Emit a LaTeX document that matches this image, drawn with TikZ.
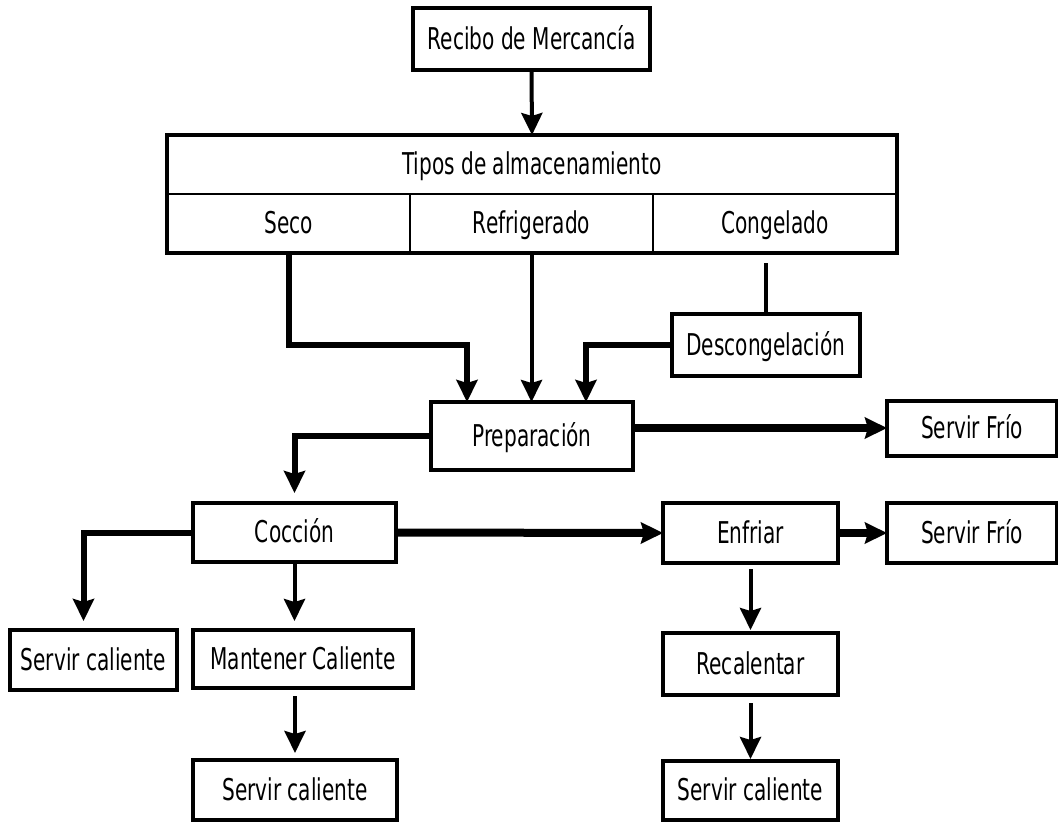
\documentclass[tikz,border=0pt]{standalone}
\usepackage{fontspec}
\setmainfont{DejaVu Sans}[FakeStretch=0.67]
\usetikzlibrary{arrows.meta}

\begin{document}
\begin{tikzpicture}[x=1pt,y=-1pt,
    box/.style = {rectangle,draw,line width=4pt,inner sep=0pt,outer sep=0pt,text height=25pt,text depth=5pt,font=\fontsize{30}{32}\selectfont},
    cell/.style = {rectangle,draw,line width=1.5pt,inner sep=0pt,outer sep=0pt,minimum height=59pt,text height=25pt,text depth=5pt,font=\fontsize{30}{32}\selectfont},
    flow/.style = {line width=4pt,-{Stealth[length=22pt,width=21pt,inset=3pt]}},
    bend flow/.style = {flow,line width=6pt},
    bold flow/.style = {flow,line width=8pt}]
\useasboundingbox (0,0) rectangle (1058,823);
% boxes
\node[box,minimum width=237pt,minimum height=62pt] (recibo) at (531.5,39) {Recibo de Mercancía};
\node[cell,minimum width=730pt] (tipos) at (532,164.5) {Tipos de almacenamiento};
\node[cell,minimum width=243pt] (seco) at (288.5,223.5) {Seco};
\node[cell,minimum width=243pt] (refri) at (531.5,223.5) {Refrigerado};
\node[cell,minimum width=244pt] (conge) at (775,223.5) {Congelado};
\draw[line width=4pt] (tipos.north west) rectangle (conge.south east);
\node[box,minimum width=188pt,minimum height=62pt] (descong) at (766,345) {Descongelación};
\node[box,minimum width=202pt,minimum height=68pt] (prep) at (532,436) {Preparación};
\node[box,minimum width=170pt,minimum height=55pt] (frio1) at (972,428) {Servir Frío};
\node[box,minimum width=203pt,minimum height=59pt] (cocc) at (294.5,532.5) {Cocción};
\node[box,minimum width=175pt,minimum height=60pt] (enfriar) at (750.5,533) {Enfriar};
\node[box,minimum width=170pt,minimum height=60pt] (frio2) at (972,533) {Servir Frío};
\node[box,minimum width=167pt,minimum height=60pt] (sc1) at (93.5,660) {Servir caliente};
\node[box,minimum width=220pt,minimum height=58pt] (mant) at (303,659) {Mantener Caliente};
\node[box,minimum width=175pt,minimum height=62pt] (recal) at (750.5,664) {Recalentar};
\node[box,minimum width=204pt,minimum height=60pt] (sc2) at (295,790) {Servir caliente};
\node[box,minimum width=175pt,minimum height=59pt] (sc3) at (750.5,790.5) {Servir caliente};
% connectors
\path ([xshift=-65pt]prep.north) coordinate (inseco)
      ([xshift=54pt]prep.north) coordinate (indesc)
      ([xshift=-10pt]sc1.north) coordinate (insc1)
      (descong.north |- conge.south) coordinate (outconge);
\draw[flow] (recibo.south) -- (tipos.north);
\draw[bend flow] (seco.south) |- (inseco |- descong.west) -- (inseco);
\draw[flow] (refri.south) -- (refri.south |- prep.north);
\draw[line width=4pt] ([yshift=-10pt]outconge) -- (descong.north);
\draw[bend flow] (descong.west) -| (indesc);
\draw[bold flow] (prep.east |- frio1.west) -- (frio1.west);
\draw[bend flow,shorten >=10pt] (prep.west) -| (cocc.north);
\draw[bend flow,shorten >=9pt] (cocc.west) -| (insc1);
\draw[flow,shorten >=9pt] (cocc.south) -- (cocc.south |- mant.north);
\draw[bold flow] (cocc.east) -- (enfriar.west);
\draw[bold flow] (enfriar.east) -- (frio2.west);
\draw[flow,shorten <=6pt,shorten >=3pt] (enfriar.south) -- (recal.north);
\draw[flow,shorten <=8pt,shorten >=7pt] (sc2.north |- mant.south) -- (sc2.north);
\draw[flow,shorten <=8pt,shorten >=2pt] (recal.south) -- (sc3.north);
\end{tikzpicture}
\end{document}
